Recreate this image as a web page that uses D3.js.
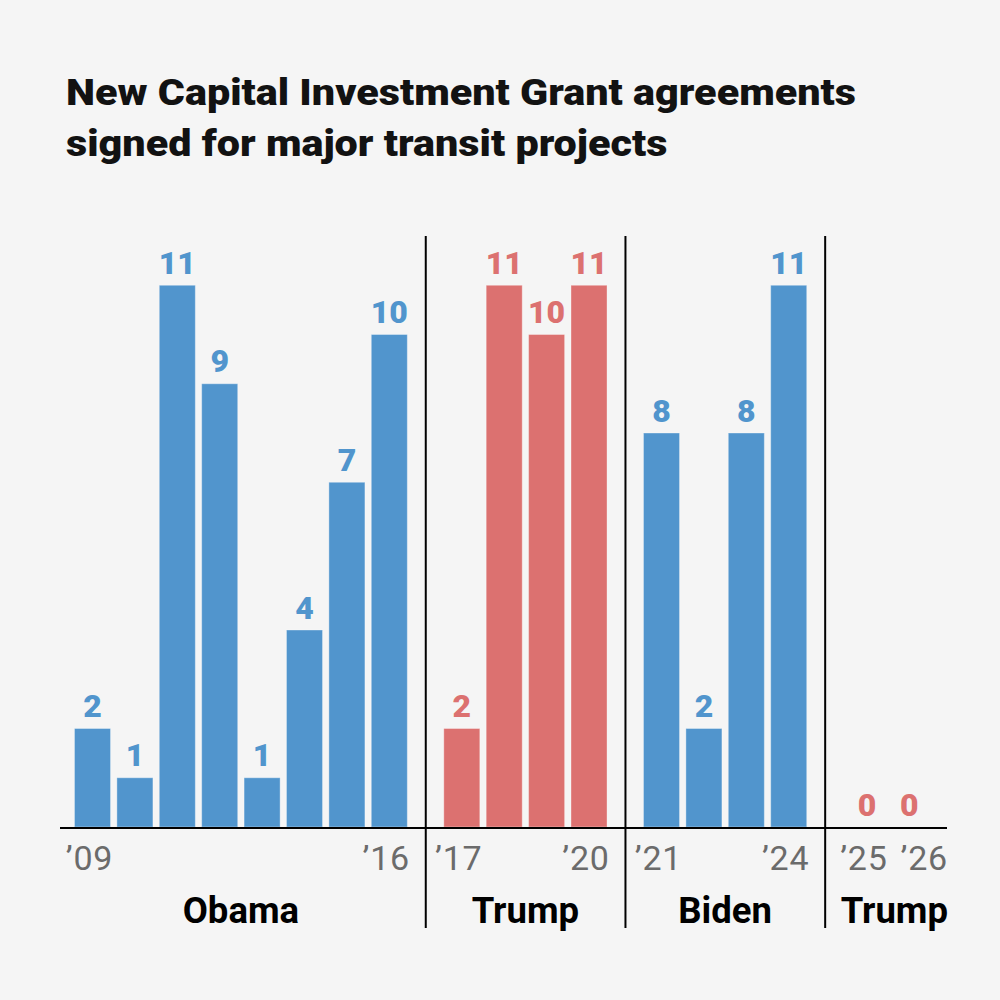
<!DOCTYPE html>
<html>
<head>
<meta charset="utf-8">
<script src="https://cdn.jsdelivr.net/npm/d3@7"></script>
<style>
  html, body { margin: 0; padding: 0; background: #f5f5f5; }
  svg { display: block; }
  text { font-family: Roboto, "Noto Sans", sans-serif; }
</style>
</head>
<body>
<svg id="chart" width="1000" height="1000"></svg>
<script>
// ---- Data ----
const years = [2009, 2010, 2011, 2012, 2013, 2014, 2015, 2016,
               2017, 2018, 2019, 2020,
               2021, 2022, 2023, 2024,
               2025, 2026];
const agreements = [2, 1, 11, 9, 1, 4, 7, 10,
                    2, 11, 10, 11,
                    8, 2, 8, 11,
                    0, 0];
const groupNames = ["Obama", "Trump", "Biden", "Trump"];
const groupParties = ["D", "R", "D", "R"];
const groupStart = [2009, 2017, 2021, 2025];
const groupEnd = [2016, 2020, 2024, 2026];
const tickYears = [2009, 2016, 2017, 2020, 2021, 2024, 2025, 2026];
const tickLabels = ["’09", "’16", "’17", "’20", "’21", "’24", "’25", "’26"];
const titleLines = ["New Capital Investment Grant agreements",
                    "signed for major transit projects"];

// ---- Layout ----
const svg = d3.select("#chart");
const W = 1000, H = 1000;
svg.append("rect").attr("width", W).attr("height", H).attr("fill", "#f5f5f5");

const partyColor = d3.scaleOrdinal().domain(["D", "R"]).range(["#5195cd", "#dc7170"]);

const groupOf = yr => groupStart.findIndex((s, i) => yr >= s && yr <= groupEnd[i]);
// extra space (in bar slots) inserted before each group
const groupGap = [0, 0.71, 0.71, 0.845];
const cumGap = groupGap.map((g, i) => d3.sum(groupGap.slice(0, i + 1)));
const slotOf = yr => years.indexOf(yr) + cumGap[groupOf(yr)];
const lastSlot = slotOf(years[years.length - 1]);
const step = 42.4;
const x = d3.scaleLinear().domain([0, lastSlot]).range([92.5, 92.5 + step * lastSlot]);
const barW = step * 0.85;

const y = d3.scaleLinear().domain([0, 12]).range([827, 236]);
const axisLeft = 60, axisRight = 947;

const data = years.map((yr, i) => ({
  year: yr, value: agreements[i], party: groupParties[groupOf(yr)]
}));

// ---- Title ----
const titleTexts = titleLines.map((t, i) =>
  svg.append("text")
    .attr("x", 66)
    .attr("y", 104.5 + i * 51.5)
    .attr("fill", "#121212")
    .attr("font-size", 36.5)
    .attr("font-weight", 900)
    .text(t));
const nat0 = titleTexts[0].node().getComputedTextLength();
const k = 790 / nat0;
titleTexts.forEach(t => {
  const w = t.node().getComputedTextLength();
  t.attr("textLength", w * k).attr("lengthAdjust", "spacingAndGlyphs");
});

// ---- Bars ----
svg.append("g").selectAll("rect")
  .data(data.filter(d => d.value > 0))
  .join("rect")
  .attr("x", d => x(slotOf(d.year)) - barW / 2)
  .attr("width", barW)
  .attr("y", d => y(d.value))
  .attr("height", d => y(0) - y(d.value))
  .attr("fill", d => partyColor(d.party))
  .attr("stroke", "rgba(255,255,255,0.35)")
  .attr("stroke-width", 1);

// ---- Value labels ----
svg.append("g").selectAll("text")
  .data(data)
  .join("text")
  .attr("x", d => x(slotOf(d.year)))
  .attr("y", d => y(d.value) - 11.5)
  .attr("text-anchor", "middle")
  .attr("font-size", 32)
  .attr("font-weight", 900)
  .attr("fill", d => partyColor(d.party))
  .text(d => d.value);

// ---- Baseline ----
svg.append("line")
  .attr("x1", axisLeft).attr("x2", axisRight)
  .attr("y1", y(0) + 1).attr("y2", y(0) + 1)
  .attr("stroke", "#000").attr("stroke-width", 2);

// ---- Separators (just after each group's last bar) ----
for (let g = 0; g < groupNames.length - 1; g++) {
  const sx = x(slotOf(groupEnd[g])) + step * 0.86;
  svg.append("line")
    .attr("x1", sx).attr("x2", sx)
    .attr("y1", y(12)).attr("y2", 928)
    .attr("stroke", "#000").attr("stroke-width", 2);
}

// ---- Tick labels ----
const tickG = svg.append("g");
tickYears.forEach((yr, i) => {
  const isLast = i === tickYears.length - 1;
  tickG.append("text")
    .attr("x", isLast ? axisRight + 1 : x(slotOf(yr)) - 3)
    .attr("y", 870)
    .attr("text-anchor", isLast ? "end" : "middle")
    .attr("font-size", 34)
    .attr("letter-spacing", 0.8)
    .attr("fill", "#6b6b6b")
    .text(tickLabels[i]);
});

// ---- Group labels ----
const grpG = svg.append("g");
groupNames.forEach((name, g) => {
  const isLast = g === groupNames.length - 1;
  const cx = (x(slotOf(groupStart[g])) + x(slotOf(groupEnd[g]))) / 2;
  grpG.append("text")
    .attr("x", isLast ? axisRight + 1 : cx)
    .attr("y", 922.5)
    .attr("text-anchor", isLast ? "end" : "middle")
    .attr("font-size", 36.5)
    .attr("font-weight", 700)
    .attr("fill", "#000")
    .text(name);
});
</script>
</body>
</html>
